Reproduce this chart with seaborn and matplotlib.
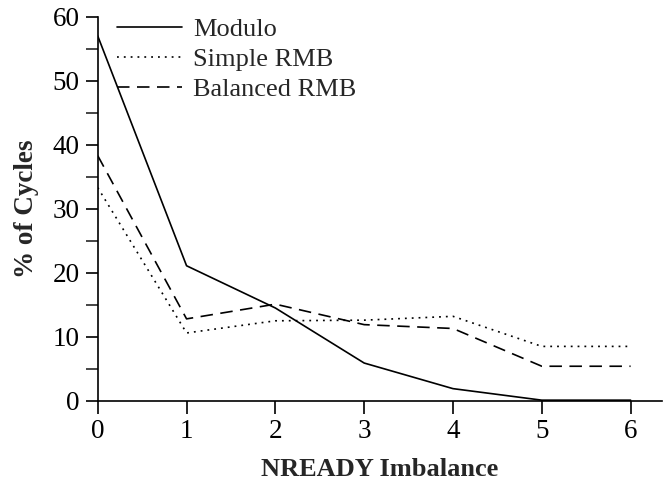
import matplotlib
matplotlib.use("Agg")
import matplotlib.pyplot as plt
import seaborn as sns
import pandas as pd
from matplotlib.ticker import MultipleLocator

imbalance = [0, 1, 2, 3, 4, 5, 6]
modulo = [57.0, 21.1, 14.5, 5.9, 1.9, 0.1, 0.1]
simple_rmb = [33.3, 10.6, 12.5, 12.6, 13.2, 8.5, 8.5]
balanced_rmb = [38.3, 12.8, 15.1, 11.9, 11.3, 5.4, 5.4]
series_names = ["Modulo", "Simple RMB", "Balanced RMB"]

df = pd.concat([
    pd.DataFrame({"x": imbalance, "y": vals, "series": name})
    for name, vals in zip(series_names, [modulo, simple_rmb, balanced_rmb])
])

sns.set_style("ticks")
plt.rcParams["font.family"] = ["Liberation Serif", "DejaVu Serif"]

fig = plt.figure(figsize=(6.65, 4.8), dpi=100)
ax = fig.add_axes([0.147, 0.165, 0.848, 0.8])

dashes = {"Modulo": "", "Simple RMB": (1.1, 3.0), "Balanced RMB": (7.5, 4.5)}
sns.lineplot(data=df, x="x", y="y", style="series", dashes=dashes,
             color="black", linewidth=1.2, ax=ax, legend=True)

ax.set_xlim(0, 6.35)
ax.set_ylim(0, 60)
ax.xaxis.set_major_locator(MultipleLocator(1))
ax.yaxis.set_major_locator(MultipleLocator(10))
ax.yaxis.set_minor_locator(MultipleLocator(5))
ax.tick_params(axis="both", which="major", direction="out", length=9, width=1.2,
               labelsize=19.5, colors="black", pad=4)
ax.tick_params(axis="y", which="minor", direction="out", length=9, width=1.2)
ax.set_xticks(imbalance)
ax.set_xticklabels([str(v) for v in imbalance])
for s in ["left", "bottom"]:
    ax.spines[s].set_linewidth(1.2)
    ax.spines[s].set_color("black")
sns.despine(ax=ax)

ax.set_xlabel("NREADY Imbalance", fontsize=19, fontweight="bold", labelpad=10)
ax.set_ylabel("% of Cycles", fontsize=19.5, fontweight="bold", labelpad=10)

leg = ax.legend(loc="upper left", bbox_to_anchor=(0.016, 1.025), frameon=False,
                fontsize=19, handlelength=2.46, handletextpad=0.42, labelspacing=0.25,
                borderaxespad=0, title=None)

fig.savefig("out.png", dpi=100)
